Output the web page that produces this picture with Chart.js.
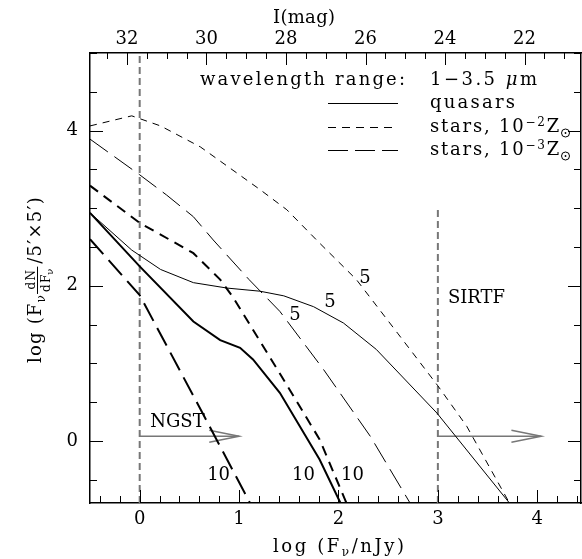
<!DOCTYPE html>
<html>
<head>
<meta charset="utf-8">
<title>Source counts vs flux</title>
<script src="https://cdn.jsdelivr.net/npm/chart.js@4.4.1/dist/chart.umd.min.js"></script>
<style>
  html, body { margin: 0; padding: 0; background: #fff; }
  canvas { display: block; }
</style>
</head>
<body>
<canvas id="counts" width="582" height="559"></canvas>
<script>
// ---- values ----
// x = log(F_nu / nJy), y = log(F_nu dN/dF_nu per 5'x5')
const qso5 = [[-0.5, 2.94], [-0.08, 2.46], [0.21, 2.21], [0.54, 2.04], [0.88, 1.97], [1.21, 1.93],
  [1.45, 1.87], [1.75, 1.73], [2.05, 1.52], [2.38, 1.18], [2.99, 0.36], [3.72, -0.8]];
const qso10 = [[-0.5, 2.94], [0, 2.25], [0.54, 1.54], [0.81, 1.30], [1.01, 1.20], [1.14, 1.05],
  [1.41, 0.62], [1.81, -0.24], [2.02, -0.8]];
const starsZ2s5 = [[-0.5, 4.06], [-0.08, 4.19], [0.21, 4.06], [0.61, 3.79], [1.21, 3.24], [1.48, 2.98],
  [1.81, 2.55], [2.18, 2.08], [2.6, 1.38], [3.0, 0.71], [3.29, 0.19], [3.72, -0.8]];
const starsZ2s10 = [[-0.5, 3.29], [0, 2.81], [0.21, 2.66], [0.54, 2.42], [0.81, 2.08], [0.94, 1.85],
  [1.41, 0.87], [1.81, 0.02], [2.08, -0.8]];
const starsZ3s5 = [[-0.5, 3.89], [0, 3.43], [0.27, 3.17], [0.54, 2.89], [0.74, 2.59], [1.1, 2.08],
  [1.41, 1.67], [1.85, 0.92], [2.32, 0.06], [2.72, -0.8]];
const starsZ3s10 = [[-0.5, 2.60], [0, 1.88], [0.64, 0.34], [1.11, -0.8]];

const xTicks = [0, 1, 2, 3, 4];
const yTicks = [0, 2, 4];
const magTicks = [32, 30, 28, 26, 24, 22];
const MAG_ZERO = 31.68;          // I(mag) at log F = 0

const limitFlux = [0, 3];        // NGST, SIRTF
const limitTop = [5, 3];
const arrowEnd = [1, 4.04];
const arrowLevel = 0.06;

const sigmaLabels = [
  { text: '5', x: 2.266, y: 2.04 },
  { text: '5', x: 1.915, y: 1.73 },
  { text: '5', x: 1.563, y: 1.56 },
  { text: '10', x: 0.794, y: -0.50 },
  { text: '10', x: 1.648, y: -0.50 },
  { text: '10', x: 2.141, y: -0.50 }
];
const instrLabels = [
  { text: 'NGST', x: 0.106, y: 0.184 },
  { text: 'SIRTF', x: 3.101, y: 1.781 }
];

const X_MIN = -0.5, X_MAX = 4.44, Y_MIN = -0.8, Y_MAX = 5;
const FONT = "'DejaVu Serif', serif";
const GREY = '#777';

const pts = arr => arr.map(([x, y]) => ({ x, y }));

function curve(arr, width, dash) {
  return {
    data: pts(arr), borderColor: '#000', borderWidth: width, borderDash: dash || [],
    pointRadius: 0, tension: 0, fill: false
  };
}
function greyLine(arr, width, dash) {
  return {
    data: pts(arr), borderColor: GREY, borderWidth: width, borderDash: dash || [],
    pointRadius: 0, tension: 0, fill: false
  };
}

const datasets = [
  curve(qso5, 1),
  curve(qso10, 2),
  curve(starsZ2s5, 1, [7, 6]),
  curve(starsZ2s10, 2, [10, 7]),
  curve(starsZ3s5, 1, [22, 8]),
  curve(starsZ3s10, 2, [20, 8])
];
limitFlux.forEach((f, i) => {
  datasets.push(greyLine([[f, Y_MIN], [f, limitTop[i]]], 2, [7, 4]));
  datasets.push(greyLine([[f, arrowLevel], [arrowEnd[i], arrowLevel]], 1.5));
  datasets.push(greyLine([[arrowEnd[i] - 0.3, arrowLevel + 0.077], [arrowEnd[i], arrowLevel],
    [arrowEnd[i] - 0.3, arrowLevel - 0.077]], 1.5));
});

// ---- text helpers ----
function runWidth(ctx, r) {
  if (r.sun) return r.w;
  ctx.letterSpacing = '0px';
  ctx.font = r.font;
  return ctx.measureText(r.t).width;
}
const runChars = r => (r.sun ? 1 : [...r.t].length);

// draw runs from x on baseline y, spaced out to width w
function drawRuns(ctx, runs, x, y, w) {
  const natural = runs.reduce((s, r) => s + runWidth(ctx, r), 0);
  const n = runs.reduce((s, r) => s + runChars(r), 0);
  const ls = w ? (w - natural) / Math.max(1, n - 1) : 0;
  let cx = x;
  runs.forEach(r => {
    const rw = runWidth(ctx, r);
    if (r.sun) {
      const cy = y + (r.dy || 0);
      ctx.beginPath(); ctx.lineWidth = 1;
      ctx.arc(cx + rw / 2, cy, r.r, 0, 2 * Math.PI); ctx.stroke();
      ctx.beginPath(); ctx.arc(cx + rw / 2, cy, 0.9, 0, 2 * Math.PI); ctx.fill();
    } else {
      ctx.font = r.font;
      ctx.letterSpacing = ls + 'px';
      ctx.fillText(r.t, cx, y + (r.dy || 0));
    }
    cx += rw + runChars(r) * ls;
  });
  ctx.letterSpacing = '0px';
}

const big = `18px ${FONT}`;
const small = `12px ${FONT}`;

const decor = {
  id: 'decor',
  afterDraw(chart) {
    const { ctx, chartArea: a, scales: { x, y } } = chart;
    ctx.save();
    ctx.strokeStyle = '#000';
    ctx.fillStyle = '#000';
    ctx.lineWidth = 1;
    const seg = (x1, y1, x2, y2) => { ctx.beginPath(); ctx.moveTo(x1, y1); ctx.lineTo(x2, y2); ctx.stroke(); };

    // bottom ticks, every 0.2
    for (let k = Math.ceil(X_MIN / 0.2); k <= Math.floor(X_MAX / 0.2); k++) {
      const px = Math.round(x.getPixelForValue(k * 0.2)) + 0.5;
      seg(px, a.bottom, px, a.bottom - (k % 5 === 0 ? 13 : 7));
    }
    // top ticks, I mag every 0.5
    for (let k = 42; k <= 65; k++) {
      const m = k * 0.5;
      const px = Math.round(x.getPixelForValue((MAG_ZERO - m) / 2.5)) + 0.5;
      if (px < a.left || px > a.right) continue;
      seg(px, a.top, px, a.top + (k % 4 === 0 ? 12 : 6));
    }
    // left / right ticks, every 0.5
    for (let k = Math.ceil(Y_MIN / 0.5); k <= Math.floor(Y_MAX / 0.5); k++) {
      const py = Math.round(y.getPixelForValue(k * 0.5)) + 0.5;
      const len = k % 4 === 0 ? 13 : 7;
      seg(a.left, py, a.left + len, py);
      seg(a.right, py, a.right - len, py);
    }

    // curve labels
    ctx.textBaseline = 'alphabetic';
    ctx.font = big;
    ctx.textAlign = 'center';
    sigmaLabels.forEach(l => ctx.fillText(l.text, x.getPixelForValue(l.x), y.getPixelForValue(l.y)));
    ctx.textAlign = 'left';
    instrLabels.forEach(l => ctx.fillText(l.text, x.getPixelForValue(l.x), y.getPixelForValue(l.y)));

    // legend block
    drawRuns(ctx, [{ t: 'wavelength range:', font: big }], 200, 85, 205);
    drawRuns(ctx, [{ t: '1\u22123.5 ', font: big }, { t: '\u03bc', font: `italic 18px ${FONT}` },
      { t: 'm', font: big }], 430, 85, 107);
    drawRuns(ctx, [{ t: 'quasars', font: big }], 430, 108, 85);
    [['\u22122', 132], ['\u22123', 155]].forEach(([exp, by]) => {
      drawRuns(ctx, [{ t: 'stars, 10', font: big }, { t: exp, font: small, dy: -6 },
        { t: 'Z', font: big }, { sun: true, w: 9, r: 4, dy: 1 }], 430, by, 140);
    });
    ctx.lineWidth = 1;
    [[103, []], [127, [8, 6]], [150, [20, 7]]].forEach(([ly, dash]) => {
      ctx.setLineDash(dash);
      seg(328, ly + 0.5, 398, ly + 0.5);
    });
    ctx.setLineDash([]);

    // axis titles
    drawRuns(ctx, [{ t: 'I(mag)', font: big }], 273, 23, 62);
    drawRuns(ctx, [{ t: 'log (F', font: big }, { t: '\u03bd', font: small, dy: 4 },
      { t: '/nJy)', font: big }], 273, 552, 131);

    // rotated y title with the dN/dF fraction
    ctx.save();
    ctx.translate(41, 363);
    ctx.rotate(-Math.PI / 2);
    const ls = 1.2;
    const put = (t, font, cx, dy) => {
      ctx.font = font; ctx.letterSpacing = ls + 'px';
      ctx.fillText(t, cx, dy);
      ctx.letterSpacing = '0px'; ctx.font = font;
      return cx + ctx.measureText(t).width + [...t].length * ls;
    };
    let cx = put('log (F', big, 0, 0);
    cx = put('\u03bd', small, cx, 4);
    ctx.font = small;
    const numW = ctx.measureText('dN').width;
    const denW = ctx.measureText('dF').width + ctx.measureText('\u03bd').width;
    const fw = Math.max(numW, denW) + 4;
    put('dN', small, cx + (fw - numW) / 2, -6);
    const dx = put('dF', small, cx + (fw - denW) / 2, 9);
    put('\u03bd', `10px ${FONT}`, dx - ls, 12);
    ctx.lineWidth = 1;
    seg(cx, -3.5, cx + fw, -3.5);
    cx += fw + 3;
    put('/5\u2032\u00d75\u2032)', big, cx, 0);
    ctx.restore();

    ctx.restore();
  }
};

const tickFont = { family: FONT, size: 18 };
const frameBorder = { display: true, color: '#000', width: 1.5 };
const noGrid = { display: false, drawTicks: false };

new Chart(document.getElementById('counts'), {
  type: 'line',
  data: { datasets },
  options: {
    responsive: false,
    animation: false,
    devicePixelRatio: 1,
    layout: { padding: 0 },
    plugins: { legend: { display: false }, tooltip: { enabled: false } },
    scales: {
      x: {
        type: 'linear', position: 'bottom', min: X_MIN, max: X_MAX,
        afterBuildTicks: s => { s.ticks = xTicks.map(v => ({ value: v })); },
        afterFit: s => { s.height = 56; },
        grid: noGrid, border: frameBorder,
        ticks: { color: '#000', font: tickFont, padding: 6, maxRotation: 0, autoSkip: false }
      },
      x2: {
        type: 'linear', position: 'top', min: X_MIN, max: X_MAX,
        afterBuildTicks: s => { s.ticks = magTicks.map(m => ({ value: (MAG_ZERO - m) / 2.5 })); },
        afterFit: s => { s.height = 53; },
        grid: noGrid, border: frameBorder,
        ticks: {
          color: '#000', font: tickFont, padding: 3, maxRotation: 0, autoSkip: false,
          callback: v => String(Math.round(MAG_ZERO - 2.5 * v))
        }
      },
      y: {
        type: 'linear', position: 'left', min: Y_MIN, max: Y_MAX,
        afterBuildTicks: s => { s.ticks = yTicks.map(v => ({ value: v })); },
        afterFit: s => { s.width = 90; },
        grid: noGrid, border: frameBorder,
        ticks: { color: '#000', font: tickFont, padding: 12 }
      },
      y2: {
        type: 'linear', position: 'right', min: Y_MIN, max: Y_MAX,
        afterFit: s => { s.width = 1; },
        grid: noGrid, border: frameBorder,
        ticks: { display: false }
      }
    }
  },
  plugins: [decor]
});
</script>
</body>
</html>
